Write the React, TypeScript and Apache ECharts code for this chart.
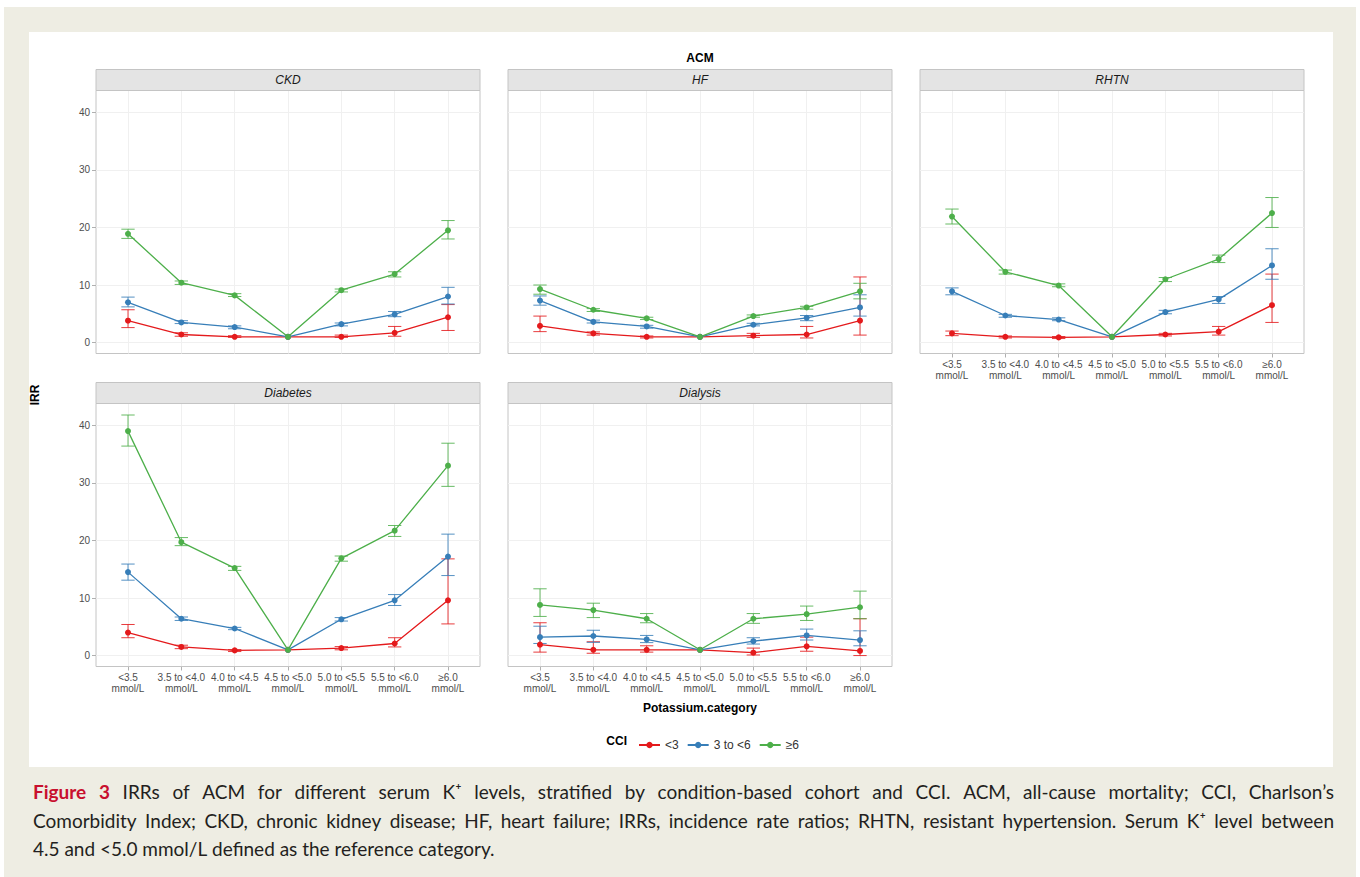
import React, { useEffect, useRef } from "react";
import * as echarts from "echarts";

const CATEGORIES = ["<3.5", "3.5 to <4.0", "4.0 to <4.5", "4.5 to <5.0", "5.0 to <5.5", "5.5 to <6.0", "≥6.0"];
const UNIT = "mmol/L";
const Y_TICKS = [0, 10, 20, 30, 40];
const GROUPS = ["<3", "3 to <6", "≥6"];
const COLORS = ["#E41A1C", "#377EB8", "#4DAF4A"];
const PANELS = ["CKD", "HF", "RHTN", "Diabetes", "Dialysis"];

// [IRR, lower CI, upper CI]; the reference category (4.5 to <5.0) has no interval
const CKD_LT3 = [[3.8, 2.6, 5.7], [1.4, 1.1, 1.7], [1.0, 0.9, 1.2], [1], [1.0, 0.9, 1.3], [1.7, 1.1, 2.8], [4.4, 2.1, 6.6]];
const CKD_3TO6 = [[7.0, 6.2, 7.9], [3.5, 3.3, 3.8], [2.7, 2.4, 2.9], [1], [3.2, 2.9, 3.4], [4.9, 4.5, 5.4], [8.0, 6.7, 9.6]];
const CKD_GE6 = [[18.9, 18.1, 19.7], [10.4, 10.1, 10.7], [8.2, 8.0, 8.5], [1], [9.1, 8.8, 9.3], [11.9, 11.4, 12.3], [19.5, 18.0, 21.2]];

const HF_LT3 = [[2.9, 1.9, 4.6], [1.6, 1.3, 1.85], [1.0, 0.8, 1.15], [1], [1.2, 0.9, 1.6], [1.4, 0.8, 2.8], [3.8, 1.3, 11.4]];
const HF_3TO6 = [[7.3, 6.5, 8.1], [3.6, 3.4, 3.9], [2.8, 2.5, 3.0], [1], [3.1, 2.9, 3.35], [4.3, 3.8, 4.7], [6.1, 4.6, 8.3]];
const HF_GE6 = [[9.3, 8.4, 10.0], [5.7, 5.4, 5.9], [4.2, 4.0, 4.4], [1], [4.6, 4.4, 4.8], [6.1, 5.8, 6.3], [8.9, 7.6, 10.3]];

const RHTN_LT3 = [[1.6, 1.2, 2.0], [1.0, 0.8, 1.15], [0.9, 0.7, 1.05], [1], [1.4, 1.15, 1.6], [1.9, 1.3, 2.8], [6.5, 3.5, 11.9]];
const RHTN_3TO6 = [[8.9, 8.3, 9.5], [4.7, 4.4, 4.9], [4.0, 3.8, 4.3], [1], [5.3, 5.0, 5.6], [7.5, 6.8, 8.0], [13.4, 11.0, 16.3]];
const RHTN_GE6 = [[21.9, 20.6, 23.2], [12.3, 11.9, 12.6], [9.9, 9.7, 10.2], [1], [11.0, 10.6, 11.3], [14.5, 13.9, 15.2], [22.5, 20.0, 25.2]];

const DIAB_LT3 = [[4.0, 3.1, 5.4], [1.5, 1.2, 1.8], [0.9, 0.7, 1.04], [1], [1.3, 1.0, 1.56], [2.1, 1.5, 3.1], [9.6, 5.5, 16.8]];
const DIAB_3TO6 = [[14.5, 13.1, 15.9], [6.4, 6.1, 6.7], [4.7, 4.5, 4.9], [1], [6.3, 6.0, 6.6], [9.6, 8.7, 10.6], [17.2, 13.9, 21.1]];
const DIAB_GE6 = [[39.0, 36.4, 41.8], [19.7, 19.1, 20.5], [15.2, 14.8, 15.5], [1], [16.9, 16.4, 17.3], [21.7, 20.7, 22.6], [33.0, 29.4, 36.9]];

const DIAL_LT3 = [[1.9, 0.6, 5.7], [1.0, 0.4, 2.4], [1.0, 0.6, 1.7], [1], [0.5, 0.1, 1.3], [1.6, 0.75, 3.2], [0.8, 0.0, 6.4]];
const DIAL_3TO6 = [[3.2, 2.1, 5.1], [3.4, 2.3, 4.4], [2.8, 2.25, 3.5], [1], [2.5, 2.0, 3.1], [3.5, 2.7, 4.6], [2.7, 1.7, 4.3]];
const DIAL_GE6 = [[8.8, 6.8, 11.6], [7.9, 6.6, 9.1], [6.4, 5.7, 7.3], [1], [6.4, 5.6, 7.3], [7.2, 6.1, 8.6], [8.4, 6.4, 11.2]];

const PANEL_DATA = [
  [CKD_LT3, CKD_3TO6, CKD_GE6],
  [HF_LT3, HF_3TO6, HF_GE6],
  [RHTN_LT3, RHTN_3TO6, RHTN_GE6],
  [DIAB_LT3, DIAB_3TO6, DIAB_GE6],
  [DIAL_LT3, DIAL_3TO6, DIAL_GE6],
];

const CAPTION_LINES = [
  "Figure 3 IRRs of ACM for different serum K⁺ levels, stratified by condition-based cohort and CCI. ACM, all-cause mortality; CCI, Charlson’s",
  "Comorbidity Index; CKD, chronic kidney disease; HF, heart failure; IRRs, incidence rate ratios; RHTN, resistant hypertension. Serum K⁺ level between",
  "4.5 and <5.0 mmol/L defined as the reference category.",
];

const FONT = "'Liberation Sans', Arial, Helvetica, sans-serif";
const CAP_FONT = "'Liberation Sans Narrow', Lato, sans-serif";

// layout (pixels)
const COL_X = [96, 508, 920];
const PANEL_W = 384;
const ROW_TOP = [90.5, 403.5];
const PANEL_H = 263;
const STRIP_H = 21;
const Y_MIN = -1.9;
const Y_MAX = 43.8;

function buildCaption(): any[] {
  const canvas = document.createElement("canvas");
  const ctx = canvas.getContext("2d") as CanvasRenderingContext2D;
  let size = 19;
  const left = 33;
  const right = 1334;
  const ys = [791, 820, 848];
  const measure = (w: string, bold: boolean, s: number) => {
    ctx.font = `${bold ? "bold " : ""}${s}px ${CAP_FONT}`;
    return ctx.measureText(w).width;
  };
  const lineWords = CAPTION_LINES.map((l) => l.split(" "));
  const isBold = (li: number, wi: number) => li === 0 && wi < 2;
  // shrink font if a justified line would not fit with near-normal spacing
  for (let li = 0; li < 2; li++) {
    const words = lineWords[li];
    let tot = 0;
    words.forEach((w, wi) => (tot += measure(w, isBold(li, wi), size)));
    tot += measure(" ", false, size) * (words.length - 1) * 0.9;
    if (tot > right - left) size = (size * (right - left)) / tot;
  }
  const els: any[] = [];
  lineWords.forEach((words, li) => {
    const widths = words.map((w, wi) => measure(w, isBold(li, wi), size));
    const total = widths.reduce((a, b) => a + b, 0);
    const gap = li < 2 ? (right - left - total) / (words.length - 1) : measure(" ", false, size);
    let x = left;
    words.forEach((w, wi) => {
      const bold = isBold(li, wi);
      els.push({
        type: "text",
        x,
        y: ys[li],
        z: 5,
        style: {
          text: w,
          fontFamily: CAP_FONT,
          fontSize: size,
          fontWeight: bold ? "bold" : "normal",
          fill: bold ? "#c8102e" : "#231f20",
          textAlign: "left",
          textVerticalAlign: "middle",
        },
      });
      x += widths[wi] + gap;
    });
  });
  return els;
}

function buildOption(): any {
  const grids: any[] = [];
  const xAxes: any[] = [];
  const yAxes: any[] = [];
  const series: any[] = [];
  const graphics: any[] = [];

  graphics.push({ type: "rect", z: -10, shape: { x: 4, y: 7, width: 1352, height: 870 }, style: { fill: "#eeede3" } });
  graphics.push({ type: "rect", z: -9, shape: { x: 29, y: 32, width: 1304, height: 735 }, style: { fill: "#ffffff" } });

  const idx = CATEGORIES.map((_, i) => i);

  PANELS.forEach((name, p) => {
    const col = p % 3;
    const row = p < 3 ? 0 : 1;
    const left = COL_X[col];
    const top = ROW_TOP[row];
    const showX = row === 1 || p === 2;
    const showY = col === 0;
    grids.push({
      left,
      top,
      width: PANEL_W,
      height: PANEL_H,
      show: true,
      borderColor: "#c4c4c4",
      borderWidth: 1,
      backgroundColor: "#ffffff",
      containLabel: false,
    });
    xAxes.push({
      type: "value",
      gridIndex: p,
      position: "bottom",
      min: -0.6,
      max: 6.6,
      axisLine: { show: false, onZero: false },
      axisTick: { show: showX, length: 4, lineStyle: { color: "#b0b0b0" }, customValues: idx },
      axisLabel: {
        show: showX,
        customValues: idx,
        formatter: (v: number) => `${CATEGORIES[Math.round(v)]}\n${UNIT}`,
        fontSize: 10,
        lineHeight: 11.5,
        color: "#4d4d4d",
        margin: 5,
        fontFamily: FONT,
      },
      splitLine: { show: true, lineStyle: { color: "#f0f0f0", width: 1 } },
    });
    yAxes.push({
      type: "value",
      gridIndex: p,
      position: "left",
      min: Y_MIN,
      max: Y_MAX,
      axisLine: { show: false, onZero: false },
      axisTick: { show: showY, length: 4, lineStyle: { color: "#b0b0b0" }, customValues: Y_TICKS },
      axisLabel: { show: showY, customValues: Y_TICKS, fontSize: 10, color: "#4d4d4d", margin: 6, fontFamily: FONT },
      splitLine: { show: true, lineStyle: { color: "#f0f0f0", width: 1 } },
    });

    // facet strip
    graphics.push({
      type: "rect",
      z: 1,
      shape: { x: left, y: top - STRIP_H, width: PANEL_W, height: STRIP_H },
      style: { fill: "#e4e4e4", stroke: "#c4c4c4", lineWidth: 1 },
    });
    graphics.push({
      type: "text",
      z: 2,
      x: left + PANEL_W / 2,
      y: top - STRIP_H / 2,
      style: {
        text: name,
        fontFamily: FONT,
        fontSize: 12,
        fontStyle: "italic",
        fill: "#1a1a1a",
        textAlign: "center",
        textVerticalAlign: "middle",
      },
    });

    PANEL_DATA[p].forEach((rows, g) => {
      const color = COLORS[g];
      const ci = rows.flatMap((r: any[], i: number) => (r.length > 1 ? [[i, r[1], r[2]]] : []));
      series.push({
        type: "custom",
        name: GROUPS[g] + " CI",
        xAxisIndex: p,
        yAxisIndex: p,
        data: ci,
        encode: { x: 0, y: [1, 2] },
        silent: true,
        renderItem: (params: any, api: any) => {
          const x = api.value(0);
          const lo = api.coord([x, api.value(1)]);
          const hi = api.coord([x, api.value(2)]);
          const half = api.size([0.25, 0])[0] / 2;
          const st = { stroke: color, lineWidth: 1, opacity: 0.85 };
          return {
            type: "group",
            children: [
              { type: "line", shape: { x1: lo[0], y1: lo[1], x2: hi[0], y2: hi[1] }, style: st },
              { type: "line", shape: { x1: lo[0] - half, y1: lo[1], x2: lo[0] + half, y2: lo[1] }, style: st },
              { type: "line", shape: { x1: hi[0] - half, y1: hi[1], x2: hi[0] + half, y2: hi[1] }, style: st },
            ],
          };
        },
      });
      series.push({
        type: "line",
        name: GROUPS[g],
        xAxisIndex: p,
        yAxisIndex: p,
        data: rows.map((r: any[], i: number) => [i, r[0]]),
        symbol: "circle",
        symbolSize: 6,
        showSymbol: true,
        itemStyle: { color },
        lineStyle: { color, width: 1.3 },
        emphasis: { disabled: true },
      });
    });
  });

  // titles
  graphics.push({
    type: "text",
    x: 700,
    y: 58,
    style: { text: "ACM", fontFamily: FONT, fontSize: 12, fontWeight: "bold", fill: "#000", textAlign: "center", textVerticalAlign: "middle" },
  });
  graphics.push({
    type: "text",
    x: 35,
    y: 395,
    rotation: Math.PI / 2,
    style: { text: "IRR", fontFamily: FONT, fontSize: 12, fontWeight: "bold", fill: "#000", textAlign: "center", textVerticalAlign: "middle" },
  });
  graphics.push({
    type: "text",
    x: 700,
    y: 708,
    style: { text: "Potassium.category", fontFamily: FONT, fontSize: 12, fontWeight: "bold", fill: "#000", textAlign: "center", textVerticalAlign: "middle" },
  });
  graphics.push({
    type: "text",
    x: 627,
    y: 741,
    style: { text: "CCI", fontFamily: FONT, fontSize: 12, fontWeight: "bold", fill: "#000", textAlign: "right", textVerticalAlign: "middle" },
  });

  graphics.push(...buildCaption());

  return {
    animation: false,
    textStyle: { fontFamily: FONT },
    grid: grids,
    xAxis: xAxes,
    yAxis: yAxes,
    legend: {
      data: GROUPS,
      left: 633,
      top: 734,
      itemWidth: 21,
      itemHeight: 8,
      itemGap: 8,
      selectedMode: false,
      textStyle: { fontSize: 12, color: "#333", fontFamily: FONT },
    },
    graphic: { elements: graphics },
    series,
  };
}

export default function App() {
  const ref = useRef<HTMLDivElement>(null);
  useEffect(() => {
    if (!ref.current) return;
    const chart = echarts.init(ref.current, undefined, { renderer: "svg" });
    chart.setOption(buildOption());
    return () => chart.dispose();
  }, []);
  return (
    <div
      ref={ref}
      style={{ position: "absolute", left: 0, top: 0, width: 1360, height: 877, background: "#ffffff" }}
    />
  );
}
